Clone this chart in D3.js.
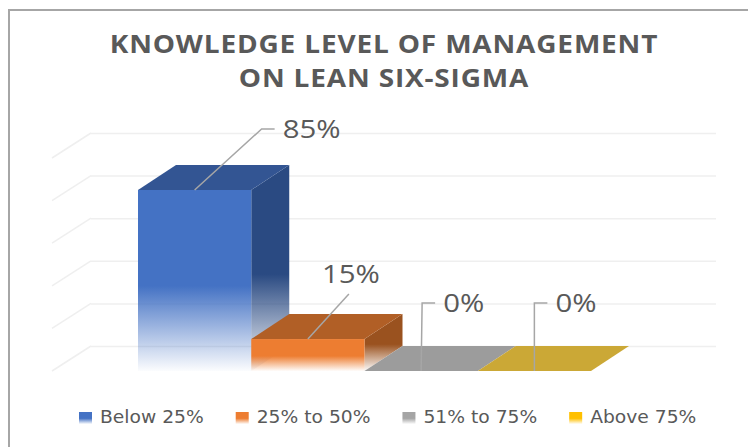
<!DOCTYPE html>
<html>
<head>
<meta charset="utf-8">
<script src="https://d3js.org/d3.v7.min.js"></script>
<style>
    html, body { margin: 0; padding: 0; background: #fff; }
    svg { display: block; }
</style>
</head>
<body>
<div id="chart"></div>
<script>
// data
const categories = ["Below 25%", "25% to 50%", "51% to 75%", "Above 75%"];
const values = [85, 15, 0, 0];
const titleLines = ["KNOWLEDGE LEVEL OF MANAGEMENT", "ON LEAN SIX-SIGMA"];

// colours per category
const frontColors = ["#4472C4", "#ED7D31", "#A5A5A5", "#FFC000"];
const topColors = ["#335593", "#B15F26", "#9C9C9C", "#CBA836"];
const sideColors = ["#2A4A82", "#9A521F", "#7C7C7C", "#BF9000"];

// leader line elbows, relative to the middle of the front top edge
const leaderOffsets = [
    {dx: 67, dy: -61, run: 13, lx: 21, ly: 0},
    {dx: 41, dy: -45, run: 0, lx: -27, ly: -20},
    {dx: 1, dy: -68, run: 13, lx: 21, ly: 0},
    {dx: 0, dy: -68, run: 13, lx: 21, ly: 0}
];

const width = 748, height = 447;
const depth = {x: 38, y: -25};
// the reference text is a bit wider than any installed font
const titleStretch = 1.12, labelStretch = 1.13, legendStretch = 1.1;

const svg = d3.select("#chart").append("svg")
    .attr("width", width)
    .attr("height", height);

const defs = svg.append("defs");

// solid down to about half of the shape, then fades out
function fade(id, color) {
    let g = defs.append("linearGradient")
        .attr("id", id)
        .attr("x1", 0).attr("y1", 0)
        .attr("x2", 0).attr("y2", 1);
    g.append("stop").attr("offset", "53%").attr("stop-color", color);
    g.append("stop").attr("offset", "100%").attr("stop-color", color).attr("stop-opacity", 0.02);
}
categories.forEach((c, i) => {
    fade("front" + i, frontColors[i]);
    fade("side" + i, sideColors[i]);
});

// chart frame, only top and left are in the crop
svg.append("path")
    .attr("d", `M9,${height}V10H${width}`)
    .attr("fill", "none")
    .attr("stroke", "#a6a6a6")
    .attr("stroke-width", 2);

// title
svg.append("g").selectAll("text")
    .data(titleLines)
    .join("text")
    .attr("transform", (d, i) => `translate(384,${53 + i * 34}) scale(${titleStretch},1)`)
    .attr("text-anchor", "middle")
    .style("font-family", "'Open Sans'")
    .style("font-weight", 700)
    .style("font-size", "25px")
    .style("letter-spacing", "0.75px")
    .style("fill", "#595959")
    .text(d => d);

// scales, these are for the back wall of the 3d box
const x = d3.scaleBand().domain(categories).range([138, 591]);
const y = d3.scaleLinear().domain([0, 100]).range([346, 133]);

// gridlines on back wall
const grid = svg.append("g")
    .attr("transform", "translate(91,0)")
    .call(d3.axisRight(y).ticks(5).tickSize(625).tickFormat(""));
grid.select(".domain").remove();
grid.selectAll("line").attr("stroke", "#efefef").attr("stroke-width", 1.5);

// and on the side wall
svg.append("g").selectAll("line")
    .data(y.ticks(5))
    .join("line")
    .attr("x1", 91)
    .attr("y1", d => y(d))
    .attr("x2", 52)
    .attr("y2", d => y(d) + 25)
    .attr("stroke", "#efefef")
    .attr("stroke-width", 1.5);

// bars, left to right so each one sits on top of the previous one
const bars = svg.append("g").selectAll("g")
    .data(categories)
    .join("g");

bars.each(function (c, i) {
    let g = d3.select(this);
    let x0 = x(c), x1 = x0 + x.bandwidth();
    let yBack = y(values[i]), yBase = y(0);
    let dx = depth.x, dy = depth.y;

    if (values[i] > 0) {
        // side face
        g.append("path")
            .attr("d", `M${x1},${yBack - dy}L${x1 + dx},${yBack}V${yBase}L${x1},${yBase - dy}Z`)
            .attr("fill", `url(#side${i})`);
        // front face
        g.append("rect")
            .attr("x", x0)
            .attr("y", yBack - dy)
            .attr("width", x.bandwidth())
            .attr("height", yBase - yBack)
            .attr("fill", `url(#front${i})`);
    }
    // top face
    g.append("path")
        .attr("d", `M${x0},${yBack - dy}L${x0 + dx},${yBack}H${x1 + dx}L${x1},${yBack - dy}Z`)
        .attr("fill", topColors[i]);
});

// leader lines and value labels
categories.forEach((c, i) => {
    let off = leaderOffsets[i];
    let cx = x(c) + x.bandwidth() / 2;
    let cy = y(values[i]) - depth.y;

    svg.append("path")
        .attr("d", `M${cx},${cy}L${cx + off.dx},${cy + off.dy}h${off.run}`)
        .attr("fill", "none")
        .attr("stroke", "#a6a6a6")
        .attr("stroke-width", 1.5);

    svg.append("text")
        .attr("transform", `translate(${cx + off.dx + off.lx},${cy + off.dy + off.ly}) scale(${labelStretch},1)`)
        .attr("dy", "0.35em")
        .style("font-family", "'Open Sans'")
        .style("font-size", "26px")
        .style("fill", "#595959")
        .text(values[i] + "%");
});

// legend, laid out from the measured text widths
let legendX = 79;
categories.forEach((c, i) => {
    fade("key" + i, frontColors[i]);
    let item = svg.append("g").attr("transform", `translate(${legendX},0)`);
    item.append("rect")
        .attr("y", 412)
        .attr("width", 13)
        .attr("height", 12)
        .attr("fill", `url(#key${i})`);
    let label = item.append("text")
        .attr("transform", `translate(21,423) scale(${legendStretch},1)`)
        .style("font-family", "'DejaVu Sans'")
        .style("font-size", "17px")
        .style("fill", "#595959")
        .text(c);
    legendX += 21 + label.node().getComputedTextLength() * legendStretch + 32;
});
</script>
</body>
</html>
